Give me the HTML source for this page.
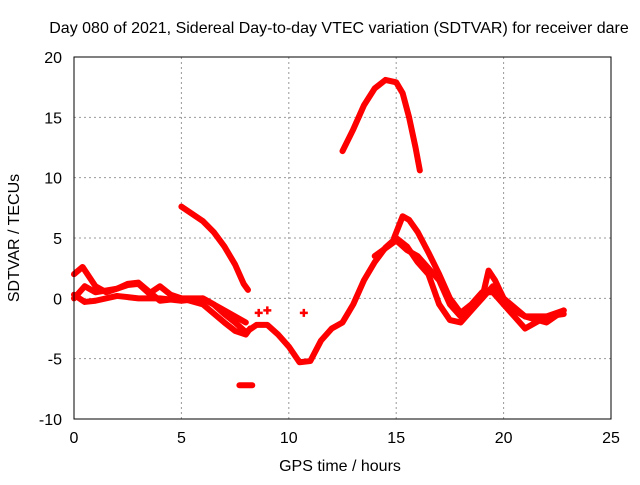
<!DOCTYPE html>
<html><head><meta charset="utf-8"><style>
body{margin:0;background:#fff}
svg text{font-family:"Liberation Sans",sans-serif;font-size:16px;fill:#000}
</style></head><body>
<svg id="chart" width="640" height="480">
<text x="339" y="33" text-anchor="middle">Day 080 of 2021, Sidereal Day-to-day VTEC variation (SDTVAR) for receiver dare</text>
<text x="340" y="471" text-anchor="middle">GPS time / hours</text>
<text transform="translate(19,238) rotate(-90)" text-anchor="middle">SDTVAR / TECUs</text>
<g id="grid"></g><g id="ticks"></g><g id="series"></g>
<rect x="74" y="57" width="537" height="362" fill="none" stroke="#000" stroke-width="1"/>
</svg>
<script>
const xTicks=[0,5,10,15,20,25];
const yTicks=[-10,-5,0,5,10,15,20];
const seriesArc=[[12.5,12.2],[13,14],[13.5,16],[14,17.4],[14.5,18.1],[15,17.9],[15.3,17],[15.6,15],[15.9,12.5],[16.1,10.6]];
const seriesB=[[5,7.6],[5.5,7],[6,6.4],[6.5,5.5],[7,4.3],[7.5,2.8],[7.9,1.2],[8.1,0.7]];
const seriesB2=[[14.9,5],[15.3,6.8],[15.6,6.5],[16,5.5],[16.5,3.8],[17,2],[17.5,0],[18,-1.2],[18.5,-0.5],[19,0.5],[19.5,0.5],[20,-0.5],[21,-1.5],[22,-1.5],[22.8,-1]];
const seriesC=[[0,0.3],[0.5,-0.3],[1,-0.2],[2,0.2],[3,0],[4,0],[5,-0.2],[6,0],[6.5,-0.5],[7,-1.3],[7.5,-2],[8,-2.8],[8.5,-2.2],[9,-2.2],[9.5,-3],[10,-4],[10.5,-5.3],[11,-5.2],[11.5,-3.5],[12,-2.5],[12.5,-2],[13,-0.5],[13.5,1.5],[14,3],[14.5,4.2],[15,5],[15.5,4.3],[16,3],[16.5,2],[17,-0.5],[17.5,-1.8],[18,-2],[18.5,-1],[19,0],[19.5,1],[20,-0.5],[20.5,-1.5],[21,-2.5],[21.5,-2],[22,-1.5],[22.8,-1.3]];
const seriesD=[[0,2],[0.4,2.6],[1,1],[1.5,0.5],[2.5,1.1],[3,1.2],[3.5,0.4],[4,1],[4.5,0.3],[5,0],[6,-0.5],[7,-2],[7.5,-2.7],[8,-3],[8.2,-2.5]];
const seriesE=[[0,0],[0.5,1],[1,0.5],[2,0.8],[2.5,1.2],[3,1.3],[4,-0.2],[5,0],[6,0],[7,-1],[8,-2]];
const seriesF=[[14,3.5],[15,4.8],[15.5,4],[16,3.5],[17,1.5],[17.5,-0.5],[18,-1.5],[19,0],[19.3,2.3],[19.6,1.5],[20,0],[21,-1.5],[22,-2],[22.8,-1]];
const seriesIso=[[7.7,-7.2],[8.3,-7.2]];
const dotsIso=[[8.6,-1.2],[10.7,-1.2],[9,-1]];
const NS='http://www.w3.org/2000/svg';
const X=v=>74+v*537/25, Y=v=>419-(v+10)*362/30;
const grid=document.getElementById('grid'),ticks=document.getElementById('ticks'),ser=document.getElementById('series');
function mk(tag,a,p){const e=document.createElementNS(NS,tag);for(const k in a)e.setAttribute(k,a[k]);p.appendChild(e);return e;}
xTicks.forEach(t=>{
 if(t>0&&t<25){const g=mk('line',{x1:X(t),x2:X(t),y1:57,y2:419,stroke:'#999','stroke-dasharray':'2,3'},grid);
 
 }
 const l=mk('text',{x:X(t),y:443,'text-anchor':'middle'},ticks);l.textContent=t;
 
 
});
yTicks.forEach(t=>{
 if(t>-10&&t<20){const g=mk('line',{x1:74,x2:611,y1:Y(t),y2:Y(t),stroke:'#999','stroke-dasharray':'2,3'},grid);
 
 }
 const l=mk('text',{x:62,y:Y(t)+6,'text-anchor':'end'},ticks);l.textContent=t;
 
 
});
[seriesArc,seriesB,seriesB2,seriesC,seriesD,seriesE,seriesF,seriesIso].forEach(s=>{
 const p=mk('polyline',{points:s.map(d=>X(d[0])+','+Y(d[1])).join(' '),fill:'none',stroke:'#f00','stroke-width':6,'stroke-linejoin':'round','stroke-linecap':'round'},ser);
 
 
});
dotsIso.forEach(d=>{
 const c=mk('path',{d:`M${X(d[0])-4},${Y(d[1])}h8M${X(d[0])},${Y(d[1])-4}v8`,stroke:'#f00','stroke-width':2.5},ser);
 
 
});
</script>
</body></html>
